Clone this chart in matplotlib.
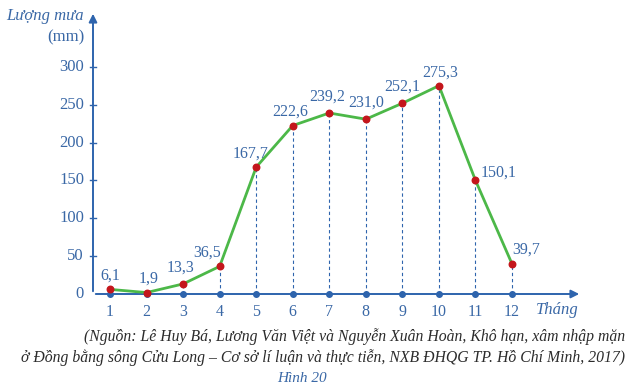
import matplotlib.pyplot as plt

months = list(range(1, 13))
rain = [6.1, 1.9, 13.3, 36.5, 167.7, 222.6, 239.2, 231.0, 252.1, 275.3, 150.1, 39.7]
labels = ["6,1", "1,9", "13,3", "36,5", "167,7", "222,6", "239,2", "231,0",
          "252,1", "275,3", "150,1", "39,7"]
yticks = [0, 50, 100, 150, 200, 250, 300]

# label offsets in pixels (dx, dy), relative to the point
offsets = [(0, 14), (2, 14), (-3, 16), (-13, 14), (-6, 13), (-3, 14), (-2, 16),
           (0, 17), (0, 17), (1, 13), (23, 8), (14, 14)]

blue = "#2e64ad"
text_blue = "#3a68a6"
green = "#4cb848"
red = "#c4161c"

fig = plt.figure(figsize=(6.33, 3.9), dpi=100)
ax = fig.add_axes([0, 0, 1, 1])
ax.axis("off")

# map pixel layout: month 1 at x=110, spacing 36.55 px; y=0 at 294 px, 0.7567 px per mm
px = 36.55
py = 0.7567
ax.set_xlim(1 - 110 / px, 1 + (633 - 110) / px)
ax.set_ylim(-(390 - 294) / py, 294 / py)

serif = "Liberation Serif"
x0 = 1 - 17 / px  # y-axis position

# axes with arrows
ax.annotate("", xy=(1 + 472 / px, 0), xytext=(x0, 0),
            arrowprops=dict(arrowstyle="-|>", color=blue, lw=1.4, mutation_scale=12))
ax.annotate("", xy=(x0, 283 / py), xytext=(x0, 0),
            arrowprops=dict(arrowstyle="-|>", color=blue, lw=1.4, mutation_scale=12))

# y ticks
for t in yticks:
    if t > 0:
        ax.plot([x0 - 3 / px, x0 + 3 / px], [t, t], color=blue, lw=1)
    ax.text(x0 - 9 / px, t, str(t), ha="right", va="center", color=text_blue,
            fontsize=12, family=serif)

ax.text(x0 - 9 / px, 278 / py, "Lượng mưa", ha="right", va="center", color=text_blue,
        fontsize=12, family=serif, style="italic")
ax.text(x0 - 9 / px, 257 / py, "(mm)", ha="right", va="center", color=text_blue,
        fontsize=12, family=serif)

# dashed guides
for m, v in zip(months, rain):
    ax.plot([m, m], [0, v], color=blue, lw=0.8, ls=(0, (3, 2.5)))

# x ticks as dots
ax.scatter(months, [0] * 12, s=16, color=blue, zorder=4)
for m in months:
    ax.text(m, -18 / py, str(m), ha="center", va="center", color=text_blue,
            fontsize=11.5, family=serif)
ax.text(1 + 447 / px, -16 / py, "Tháng", ha="center", va="center", color=text_blue,
        fontsize=12, family=serif, style="italic")

# data line
ax.plot(months, rain, color=green, lw=2, zorder=3)
ax.scatter(months, rain, s=22, color=red, zorder=5)

for m, v, lab, (dx, dy) in zip(months, rain, labels, offsets):
    ax.text(m + dx / px, v + dy / py, lab, ha="center", va="center", color=text_blue,
            fontsize=11.5, family=serif)

# caption
fig.text(625 / 633, 1 - 337 / 390,
         "(Nguồn: Lê Huy Bá, Lương Văn Việt và Nguyễn Xuân Hoàn, Khô hạn, xâm nhập mặn",
         ha="right", va="center", fontsize=11.3, family=serif, style="italic", color="#2b2b2b")
fig.text(625 / 633, 1 - 358 / 390,
         "ở Đồng bằng sông Cửu Long – Cơ sở lí luận và thực tiễn, NXB ĐHQG TP. Hồ Chí Minh, 2017)",
         ha="right", va="center", fontsize=11.3, family=serif, style="italic", color="#2b2b2b")
fig.text(302 / 633, 1 - 378 / 390, "Hình 20", ha="center", va="center", fontsize=11,
         family=serif, style="italic", color=text_blue)

fig.savefig("out.png", dpi=100)
